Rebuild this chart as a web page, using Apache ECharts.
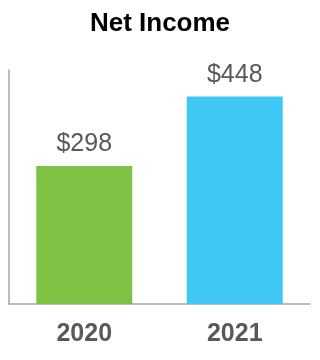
<!DOCTYPE html>
<html><head><meta charset="utf-8">
<script src="https://cdn.jsdelivr.net/npm/echarts@6/dist/echarts.min.js"></script>
<style>html,body{margin:0;padding:0;background:#fff}#c{width:320px;height:360px}</style>
</head><body><div id="c"></div>
<script>
const categories = ['2020', '2021'];
const netIncome = [298, 448];
const barColors = ['#7DC243', '#3FC8F4'];
const labelPrefix = '$';

const chart = echarts.init(document.getElementById('c'));
chart.setOption({
  animation: false,
  title: {
    text: 'Net Income', left: 'center', top: 6,
    textStyle: { fontFamily: 'Liberation Sans', fontWeight: 'bold', fontSize: 26, color: '#000' }
  },
  grid: { left: 9, right: 10, top: 70, bottom: 56 },
  xAxis: {
    type: 'category', data: categories,
    axisLine: { lineStyle: { color: '#a6a6a6', width: 1.5 } },
    axisTick: { show: false },
    axisLabel: { margin: 18, fontFamily: 'Liberation Sans', fontWeight: 'bold', fontSize: 25, color: '#595959' }
  },
  yAxis: {
    type: 'value', min: 0, max: 505,
    axisLine: { show: true, lineStyle: { color: '#a6a6a6', width: 1.5 } },
    axisTick: { show: false }, axisLabel: { show: false }, splitLine: { show: false }
  },
  series: [{
    type: 'bar', barWidth: 96,
    data: netIncome.map((v, i) => ({ value: v, itemStyle: { color: barColors[i] } })),
    label: {
      show: true, position: 'top', distance: 9,
      formatter: p => labelPrefix + p.value,
      fontFamily: 'Liberation Sans', fontSize: 25, color: '#595959'
    }
  }]
});
</script></body></html>
